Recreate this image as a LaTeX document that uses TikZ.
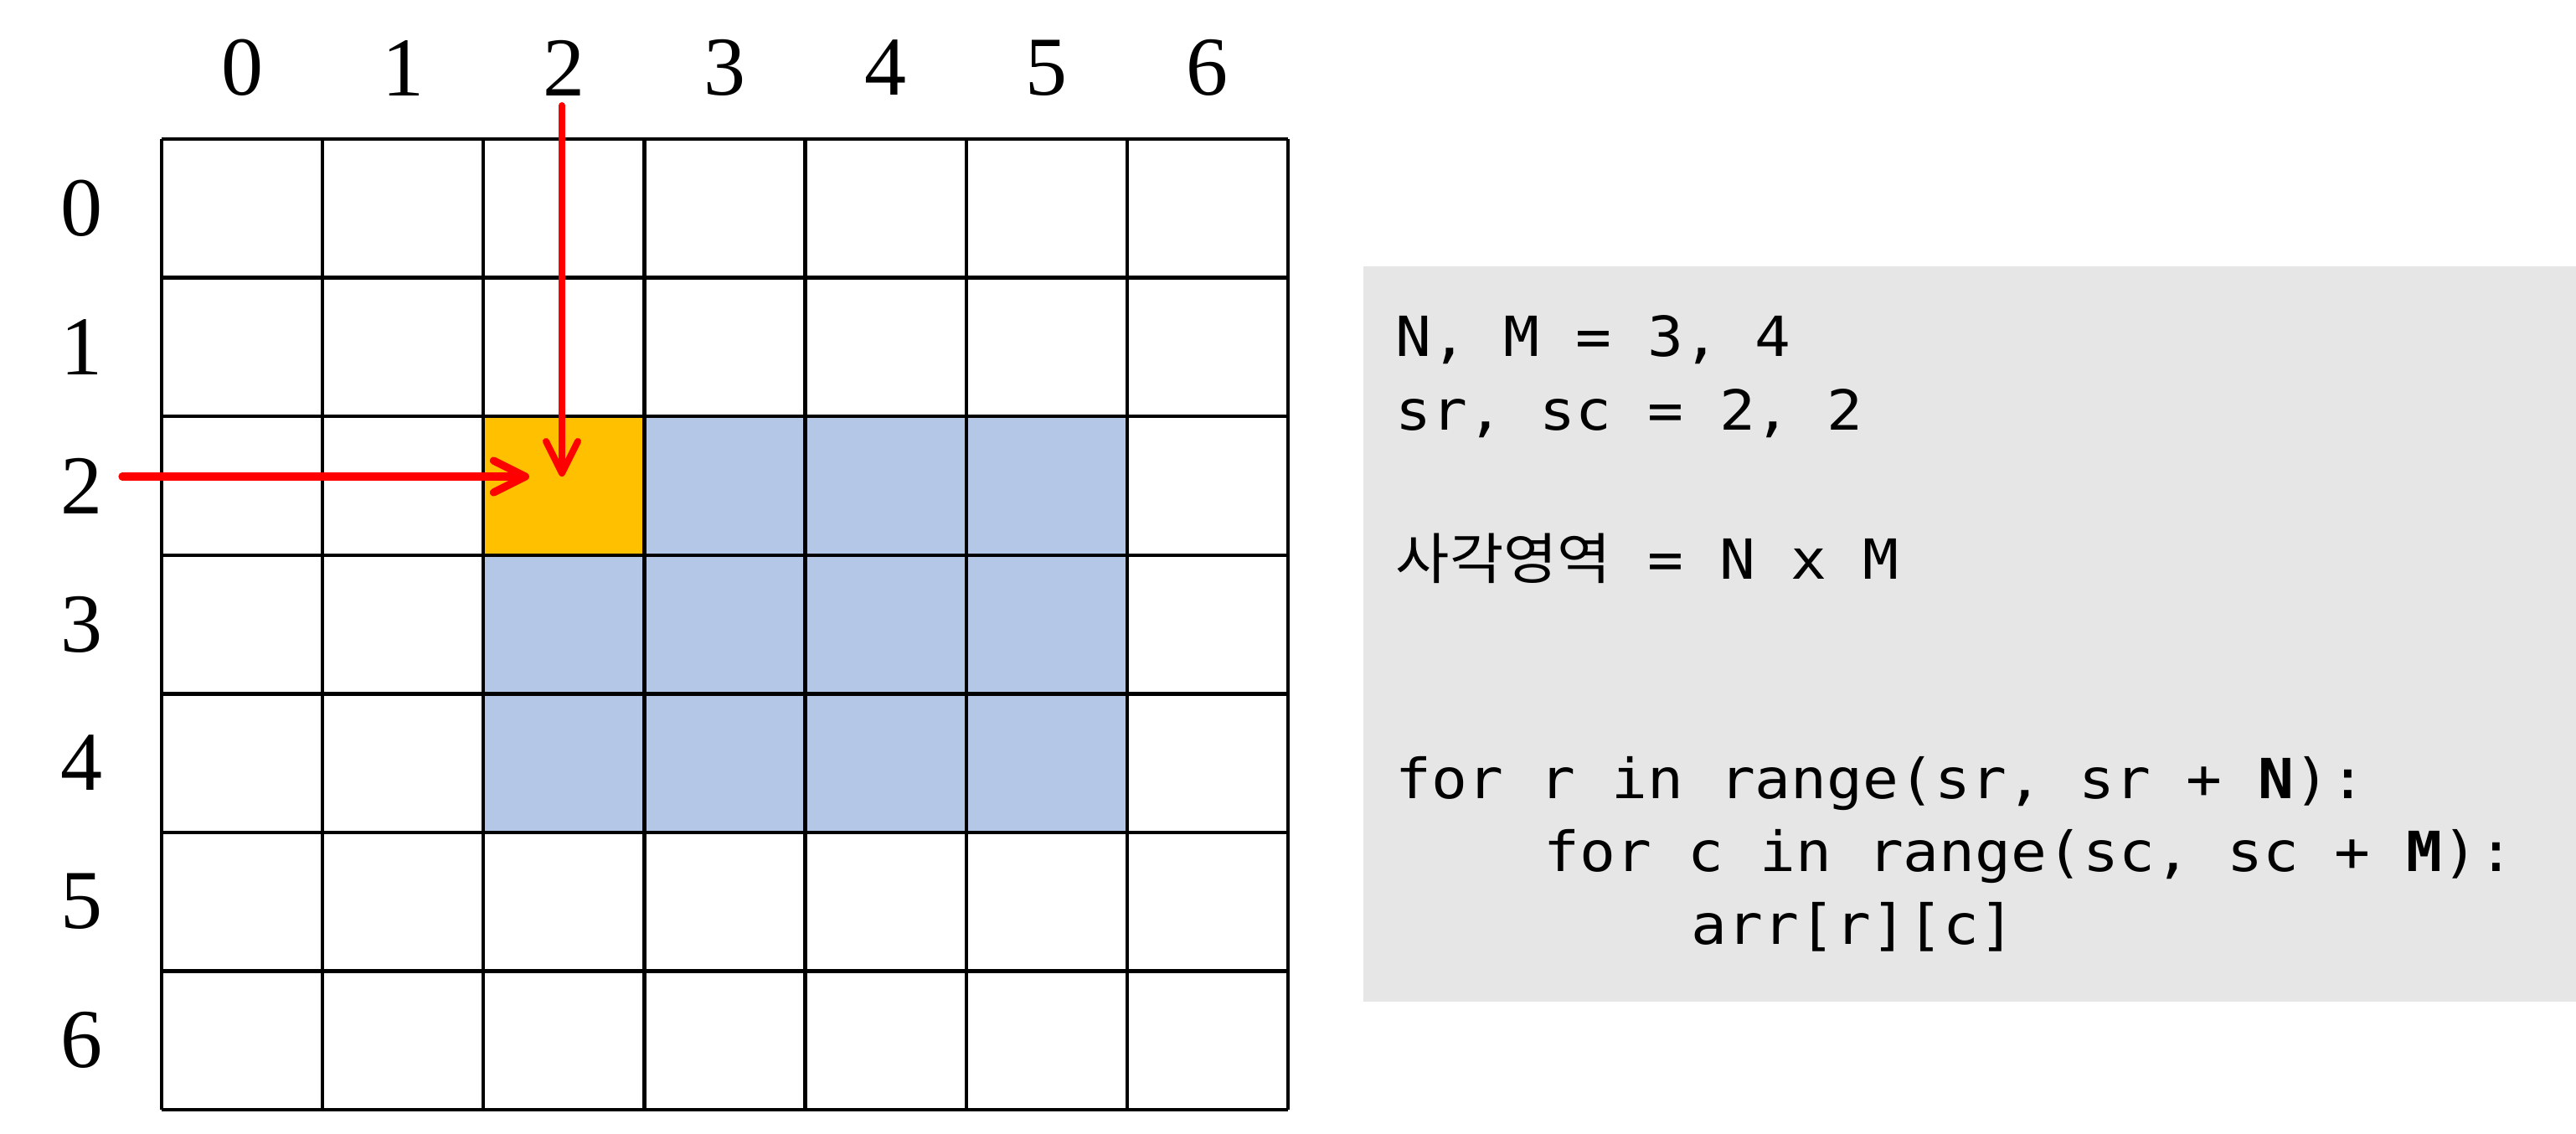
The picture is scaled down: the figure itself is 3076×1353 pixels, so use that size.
\documentclass[tikz,border=0pt]{standalone}
\usepackage{fontspec}
\setmainfont{Liberation Serif}
\setmonofont{DejaVu Sans Mono}[FakeStretch=1.08]
\newfontfamily\krfont{Noto Sans CJK KR}[FakeStretch=1.06]
\usetikzlibrary{arrows.meta}
\definecolor{cellorange}{HTML}{FFC000}
\definecolor{cellblue}{HTML}{B4C7E7}
\definecolor{codebg}{HTML}{E7E6E6}
\definecolor{arrowred}{HTML}{FF0000}
\begin{document}
\begin{tikzpicture}[x=0.25pt,y=-0.25pt,
  gridline/.style={line width=1.1pt, draw=black},
  idx/.style={font=\fontsize{25}{30}\selectfont, inner sep=0pt},
  code/.style={font=\fontsize{16.5}{20}\selectfont\ttfamily, anchor=base west, inner sep=0pt},
  pointer/.style={draw=arrowred, line width=2pt, line cap=round, -{Straight Barb[length=9.5pt,width=9.5pt,round]}}]
\useasboundingbox (0,0) rectangle (3076,1353);
\fill[white] (0,0) rectangle (3076,1353);
% code background
\fill[codebg] (1628,318) rectangle (3076,1196);
% highlighted cells
\fill[cellblue] ({193+192.14*2},{166+165.57*2}) rectangle ({193+192.14*6},{166+165.57*5});
\fill[cellorange] ({193+192.14*2},{166+165.57*2}) rectangle ({193+192.14*3},{166+165.57*3});
% grid
\foreach \i in {0,...,7} {
  \draw[gridline] ({193+192.14*\i},166) -- ({193+192.14*\i},1325);
  \draw[gridline] (193,{166+165.57*\i}) -- (1538,{166+165.57*\i});
}
% indices
\foreach \i in {0,...,6} {
  \node[idx] (col\i) at ({193+192.14*(\i+0.5)},81) {\i};
  \node[idx] (row\i) at (97,{166+165.57*(\i+0.5)}) {\i};
}
% pointers
\coordinate (vs) at (671,126);
\coordinate (ve) at (671,569);
\coordinate (hs) at (146,569);
\coordinate (he) at (632,569);
\draw[pointer] (vs) -- (ve);
\draw[pointer, line width=2.3pt] (hs) -- (he);
% code
\node[code] (l1) at (1666,425) {N, M = 3, 4};
\node[code] (l2) at (1666,513) {sr, sc = 2, 2};
\node[code] (l3) at (1666,691) {{\krfont 사각영역} = N x M};
\node[code] (l4) at (1666,953) {for r in range(sr, sr + \textbf{N}):};
\node[code] (l5) at (1843,1040) {for c in range(sc, sc + \textbf{M}):};
\node[code] (l6) at (2019,1127) {arr[r][c]};
\end{tikzpicture}
\end{document}
